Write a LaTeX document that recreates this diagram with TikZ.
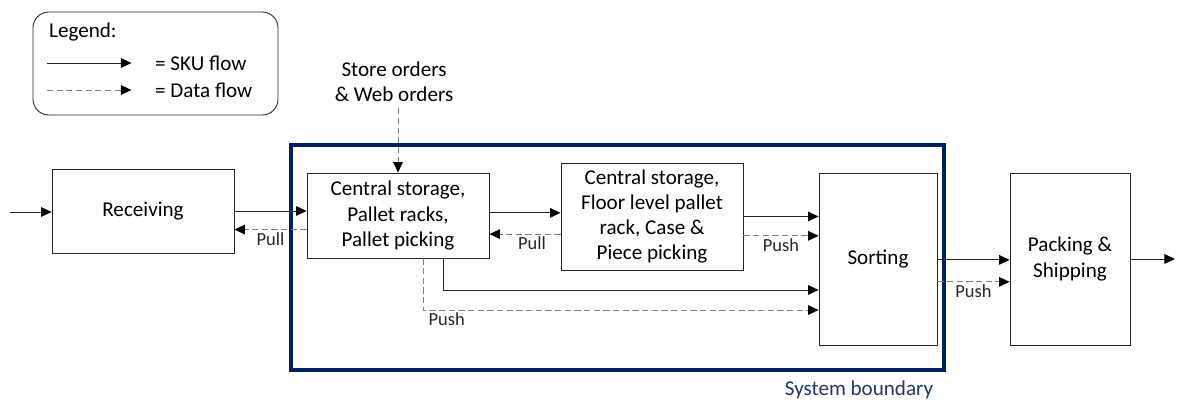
\documentclass[tikz,border=0pt]{standalone}
\usepackage{fontspec}
\setmainfont{Carlito}
\usepackage{tikz}
\usetikzlibrary{arrows.meta, positioning, calc}

\definecolor{boundblue}{RGB}{0,32,96}
\definecolor{boundtext}{RGB}{32,56,100}

\begin{document}
\begin{tikzpicture}[
    box/.style={draw=black!85, line width=0.5pt, align=center, font=\fontsize{12}{14.4}\selectfont, inner sep=2pt},
    sku/.style={-{Triangle[length=6pt, width=5.5pt, color=black]}, line width=0.5pt, black!85},
    data/.style={-{Triangle[length=6pt, width=5.5pt, color=black]}, line width=0.5pt, gray, dash pattern=on 3.5pt off 2pt},
    lbl/.style={font=\fontsize{10.5}{12}\selectfont, text=black!85, inner sep=1.5pt},
    txt/.style={font=\fontsize{12}{14.4}\selectfont, align=center},
]
    \useasboundingbox (0,0) rectangle (23.76,-8);

    % legend
    \node[draw=black!85, line width=0.5pt, rounded corners=9pt, minimum width=4.9cm, minimum height=2.06cm] (legend) at (3.11,-1.27) {};
    \node[txt, anchor=west] (legtitle) at (0.86,-0.64) {Legend:};
    \node[txt, anchor=west] (legsku) at (2.98,-1.26) {= SKU flow};
    \node[txt, anchor=west] (legdata) at (2.98,-1.80) {= Data flow};
    \coordinate (skustart) at (0.94,-1.26);
    \coordinate (datastart) at (0.94,-1.80);
    \draw[sku] (skustart) -- ([xshift=-10pt]legsku.west);
    \draw[data] (datastart) -- ([xshift=-10pt]legdata.west);

    % system boundary
    \node[draw=boundblue, line width=2.2pt, minimum width=13.06cm, minimum height=4.5cm] (sys) at (12.35,-5.15) {};
    \node[txt, text=boundtext] (systxt) at (17.18,-7.8) {System boundary};

    % process boxes
    \node[box, minimum width=3.64cm, minimum height=1.68cm] (rec) at (2.86,-4.22) {Receiving};
    \node[box, minimum width=3.64cm, minimum height=1.70cm] (pal) at (7.96,-4.31) {Central storage,\\Pallet racks,\\Pallet picking};
    \node[box, minimum width=3.64cm, minimum height=2.14cm] (flo) at (13.04,-4.33) {Central storage,\\Floor level pallet\\rack, Case \&\\Piece picking};
    \node[box, minimum width=2.36cm, minimum height=3.44cm] (sor) at (17.56,-5.18) {Sorting};
    \node[box, minimum width=2.40cm, minimum height=3.44cm] (pack) at (21.40,-5.18) {Packing \&\\Shipping};

    \node[txt] (orders) at (7.88,-1.64) {Store orders\\\& Web orders};

    \coordinate (in) at (0.2,-4.24);
    \coordinate (out) at (23.5,-5.18);

    % flows
    \draw[sku] (in) -- (in -| rec.west);
    \draw[sku] (rec.east) -- (rec.east -| pal.west);
    \draw[data] ([yshift=-8pt]pal.west) -- node[lbl, below] {Pull} ([yshift=-8pt]pal.west -| rec.east);
    \draw[data] (orders.south -| pal.north) -- (pal.north);

    \draw[sku] ([yshift=1.5pt]pal.east) -- ([yshift=1.5pt]pal.east -| flo.west);
    \draw[data] ([yshift=-10pt]flo.west) -- node[lbl, below, xshift=4pt] {Pull} ([yshift=-10pt]flo.west -| pal.east);

    \draw[sku] (flo.east) -- (flo.east -| sor.west);
    \draw[data] ([yshift=-11pt]flo.east) -- node[lbl, below] {Push} ([yshift=-11pt]flo.east -| sor.west);

    \draw[sku] ($(pal.south)+(0.9,0)$) |- ($(sor.west)+(0,-0.62)$);
    \draw[data] ($(pal.south)+(0.5,0)$) |- node[lbl, below, pos=0.53] {Push} ($(sor.west)+(0,-1.02)$);

    \draw[sku] ([yshift=-0.5pt]sor.east) -- ([yshift=-0.5pt]sor.east -| pack.west);
    \draw[data] ([yshift=-13pt]sor.east) -- node[lbl, below] {Push} ([yshift=-13pt]sor.east -| pack.west);
    \draw[sku] (pack.east) -- (out);
\end{tikzpicture}
\end{document}
